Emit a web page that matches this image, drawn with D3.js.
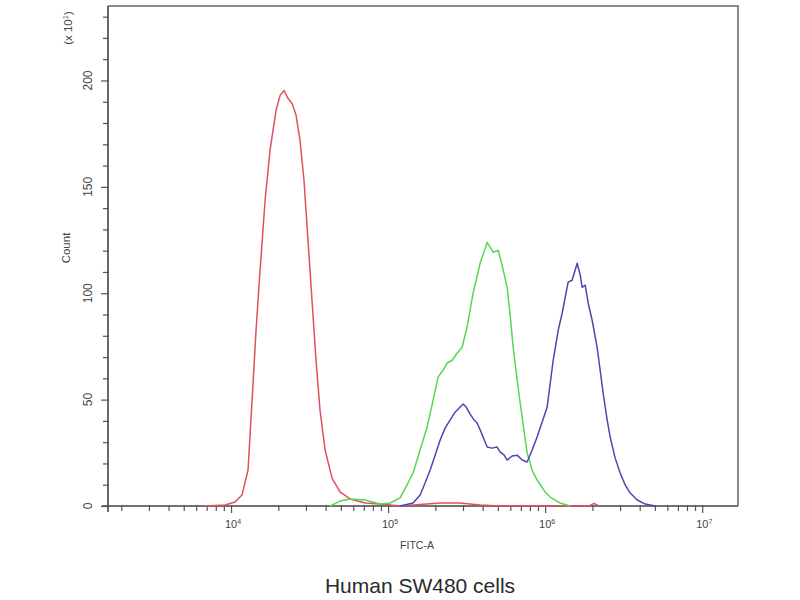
<!DOCTYPE html>
<html><head><meta charset="utf-8">
<script src="https://cdn.jsdelivr.net/npm/d3@7"></script>
<style>body{margin:0;background:#fff;}svg{display:block;font-family:"Liberation Sans",Arial,sans-serif;}</style>
</head><body><svg id="c" width="800" height="600"></svg>
<script>
// FITC-A values and counts (x10^1)
const redX = [6820,9160,10600,11750,12830,13620,14430,15310,16480,17710,19350,20530,21780,23080,24480,25950,27500,29150,30910,32780,34760,36860,39720,43970,49430,57240,71380,88960,119200,214500,287600,385500,516700,1900000,2050000,2200000];
const redY = [0,0.5,1.9,5.2,16.9,49.8,82.6,110.8,143.7,167.1,185.9,193,195.3,191.5,189.2,183.6,171.8,153,124.9,96.7,68.5,45.1,26.3,13.1,6.6,3.3,1.4,0.9,0,1.4,1.4,0.5,0,0,1.2,0];
const greenX = [42760,49430,57240,71380,88960,103000,119200,132000,144300,159900,177200,193600,208100,223900,237500,255700,274800,295900,318300,347700,385500,427500,446800,467100,502300,532500,572600,598400,625500,663500,693400,767900,826500,888600,1000000,1076000,1247000,1443000];
const greenY = [0,2.3,3.3,2.8,0.9,1.4,3.8,9.9,15.5,26.3,37.1,49.8,60.6,63.8,67.1,68.5,71.8,74.6,84,100,114.1,123.9,121.6,119.2,120.2,113.1,102.8,89.7,74.6,59.2,48.4,24.9,16.9,12.2,6.6,4.2,1.4,0];
const blueX = [119200,144300,159900,172000,185300,199200,214500,230600,248100,267000,287600,300700,314100,333000,353100,368800,391100,427500,459400,494100,516700,548300,572600,616600,663500,713800,767900,826500,888600,956000,1030000,1125000,1211000,1283000,1401000,1485000,1600000,1672000,1722000,1799000,1880000,1992000,2143000,2340000,2483000,2595000,2792000,3005000,3234000,3480000,3855000,4335000,5023000];
const blueY = [0,1.4,5.2,10.8,16.9,23.9,31,36.6,40.4,44.1,46.5,47.9,46.5,43.2,40.4,39,34.7,27.7,27.2,27.7,25.4,23.9,21.6,23.5,23.9,21.6,20.7,26.3,32.4,39.4,46.5,68.5,82.6,90.6,105.2,106.1,114.1,108.5,102.8,103.8,95.3,87.3,74.6,53.1,40.4,32.4,22.5,15.5,9.9,6.1,2.8,0.9,0];
const yMajor = [0,50,100,150,200];
const xMajorExp = [4,5,6,7];
const title = "Human SW480 cells";
const xLabel = "FITC-A";
const yLabel = "Count";

const svg = d3.select("#c");
const L=108, R=738, T=6, B=506;
const x = d3.scaleLog().domain([1647, 1.69e7]).range([L, R]);
const y = d3.scaleLinear().domain([0, 235]).range([B, T]);

// frame top/right
svg.append("path").attr("d",`M${L},${T}H${R}V${B}`).attr("fill","none").attr("stroke","#8a8a8a").attr("stroke-width",2);

// x ticks
const xTicks=[];
for(let e=3;e<=7;e++) for(let m=1;m<=9;m++){const v=m*Math.pow(10,e); if(v>=1700 && v<=1.69e7) xTicks.push(v);}
const xa = d3.axisBottom(x).tickValues(xTicks).tickFormat("").tickSize(5).tickSizeOuter(0);
const gx = svg.append("g").attr("transform",`translate(0,${B})`).call(xa);
gx.select(".domain").attr("stroke","#444").attr("stroke-width",1.6).attr("d",`M${L-6},0H${R}`);
gx.selectAll(".tick line").attr("stroke","#555").attr("stroke-width",1.2)
  .attr("y1",-1).attr("y2",d=>[1e4,1e5,1e6,1e7].includes(d)?7:5);

// y ticks
const yTicks=d3.range(0,235,10);
const ya = d3.axisLeft(y).tickValues(yTicks).tickFormat("").tickSize(5).tickSizeOuter(0);
const gy = svg.append("g").attr("transform",`translate(${L},0)`).call(ya);
gy.select(".domain").attr("stroke","#444").attr("stroke-width",1.6).attr("d",`M0,${T}V${B+6}`);
gy.selectAll(".tick line").attr("stroke","#555").attr("stroke-width",1.2)
  .attr("x2",d=>yMajor.includes(d)?-7:-5).attr("x1",1);

// y labels rotated
yMajor.forEach(v=>{
  svg.append("text").attr("transform",`translate(92,${y(v)}) rotate(-90)`)
    .attr("text-anchor","middle").attr("font-size",12).attr("fill","#444").text(v);
});
// x labels with superscript
xMajorExp.forEach(e=>{
  const t=svg.append("text").attr("x",x(Math.pow(10,e))+2).attr("y",528).attr("text-anchor","middle")
    .attr("font-size",11).attr("fill","#444");
  t.append("tspan").text("10");
  t.append("tspan").attr("dy",-4).attr("font-size",7).text(e);
});
// axis titles
svg.append("text").attr("x",417).attr("y",549).attr("text-anchor","middle").attr("font-size",10.5).attr("fill","#444").text(xLabel);
svg.append("text").attr("transform","translate(70,248) rotate(-90)").attr("text-anchor","middle").attr("font-size",11.5).attr("fill","#444").text(yLabel);
const ex = svg.append("text").attr("transform","translate(72,28) rotate(-90)").attr("text-anchor","middle").attr("font-size",11.5).attr("fill","#444");
ex.append("tspan").text("(x 10");
ex.append("tspan").attr("dy",-4).attr("font-size",7.5).text("1");
ex.append("tspan").attr("dy",4).text(")");

// title
svg.append("text").attr("x",420).attr("y",593).attr("text-anchor","middle").attr("font-size",21).attr("fill","#2a2a2a").text(title);

// curves
const line = d3.line().x(d=>x(d[0])).y(d=>y(d[1]));
const series = [[redX,redY,"#e0505e"],[greenX,greenY,"#55d855"],[blueX,blueY,"#4848b4"]];
series.forEach(([xs,ys,c])=>{
  svg.append("path").datum(xs.map((v,i)=>[v,ys[i]])).attr("d",line)
    .attr("fill","none").attr("stroke",c).attr("stroke-width",1.5).attr("stroke-linejoin","round");
});
</script></body></html>
